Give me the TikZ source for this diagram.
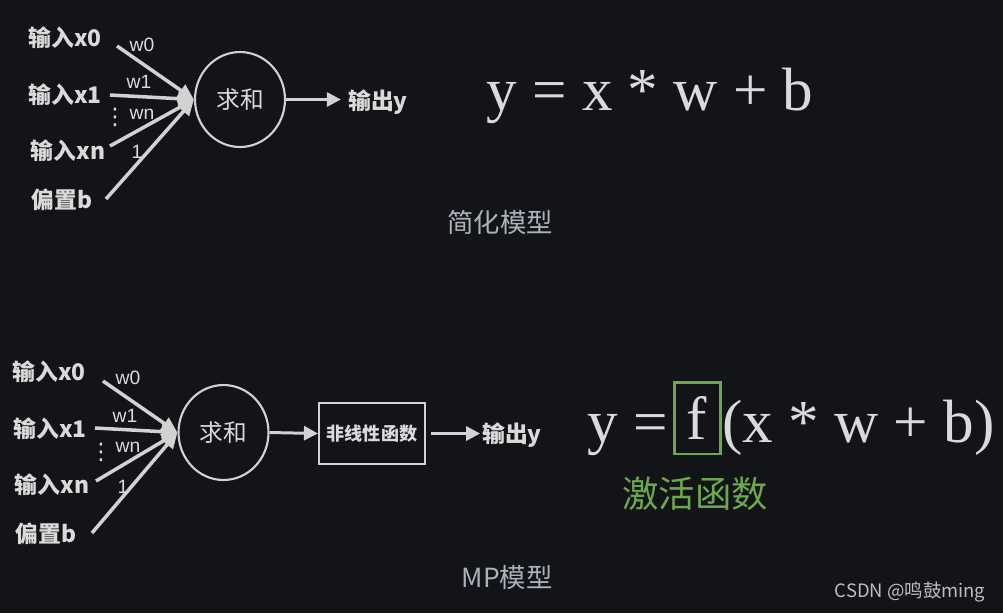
\documentclass[tikz,border=0pt]{standalone}
\usepackage{fontspec}
\setmainfont{Liberation Serif}
\newfontfamily\cjk{Noto Sans CJK SC}
\newfontfamily\lab{Liberation Sans}
\newfontfamily\sym{DejaVu Sans}
\usetikzlibrary{arrows.meta,positioning,shapes.geometric}
\definecolor{bg}{RGB}{19,20,24}
\definecolor{fg}{RGB}{218,218,218}
\definecolor{wire}{RGB}{210,210,210}
\definecolor{capgray}{RGB}{172,178,188}
\definecolor{markgray}{RGB}{190,190,190}
\definecolor{actgreen}{RGB}{108,168,76}
\tikzset{
  inlabel/.style={font=\cjk\bfseries\fontsize{13}{15}\selectfont,text=fg,inner sep=1pt},
  weight/.style={font=\lab\fontsize{11}{12}\selectfont,text=fg,inner sep=0pt},
  vdotsmark/.style={font=\sym\fontsize{13}{13}\selectfont,text=fg,inner sep=0pt},
  inwire/.style={draw=wire,line width=2pt,-{Triangle[length=9pt,width=8pt]}},
  outwire/.style={draw=wire,line width=1.7pt,-{Triangle[length=8pt,width=8pt]}},
  sumnode/.style={ellipse,draw=wire,line width=1.2pt,minimum width=1.8cm,minimum height=1.9cm,
    text=fg,font=\cjk\fontsize{13.5}{15}\selectfont},
  funcbox/.style={rectangle,draw=wire,line width=1.2pt,minimum width=2.12cm,minimum height=1.22cm,
    text=fg,font=\cjk\bfseries\fontsize{10.3}{12}\selectfont},
  formula/.style={font=\fontsize{34.8}{40}\selectfont,text=fg,inner sep=0pt},
  modelcap/.style={font=\cjk\fontsize{15}{18}\selectfont,text=capgray},
}
\begin{document}
\begin{tikzpicture}[x=0.02cm,y=-0.02cm]
\fill[bg] (0,0) rectangle (1003,613);
\useasboundingbox (0,0) rectangle (1003,613);

% simplified model
\node[sumnode] (sumA) at (240,99.5) {求和};
\node[inlabel] (xA0) at (65,38) {输入x0};
\node[inlabel] (xA1) at (65,95) {输入x1};
\node[inlabel] (xAn) at (68,151) {输入xn};
\node[inlabel] (xAb) at (62,200) {偏置b};
\coordinate (tA0) at (117,46);
\coordinate (tA1) at (110,95);
\coordinate (tAn) at (110,146);
\coordinate (tAb) at (106,199);
\foreach \i in {0,1,n,b}
  \draw[inwire] (tA\i) -- (sumA.west);
\node[weight] (wA0) at (142,45) {w0};
\node[weight] (wA1) at (139,82) {w1};
\node[weight] (wAn) at (142,114) {wn};
\node[weight] (wAb) at (137,152) {1};
\node[vdotsmark] (dA) at (115,117) {⋮};
\node[inlabel] (outA) at (378,102) {输出y};
\draw[outwire,shorten >=3pt] (sumA.east) -- (outA.west |- sumA.east);
\node[formula,anchor=base] (eqA) at (650,110) {y = x * w + b};
\node[modelcap] (capA) at (500,222) {简化模型};

% MP model
\node[sumnode] (sumB) at (223.5,432.5) {求和};
\node[inlabel] (xB0) at (49,372) {输入x0};
\node[inlabel] (xB1) at (50,429) {输入x1};
\node[inlabel] (xBn) at (52,485) {输入xn};
\node[inlabel] (xBb) at (46,534) {偏置b};
\coordinate (tB0) at (103,381);
\coordinate (tB1) at (95,428);
\coordinate (tBn) at (96,481);
\coordinate (tBb) at (92,533);
\foreach \i in {0,1,n,b}
  \draw[inwire] (tB\i) -- (sumB.west);
\node[weight] (wB0) at (128,378) {w0};
\node[weight] (wB1) at (125,416) {w1};
\node[weight] (wBn) at (128,447) {wn};
\node[weight] (wBb) at (123,487) {1};
\node[vdotsmark] (dB) at (101,452) {⋮};
\node[funcbox] (fB) at (372,433.5) {非线性函数};
\node[inlabel] (outB) at (512,435) {输出y};
\draw[outwire] (sumB.east) -- (fB.west);
\draw[outwire,shorten <=3pt] (fB.east) -- (outB.west |- fB.east);
\node[formula,anchor=base east] (lhsB) at (668,442) {y =};
\node[formula,draw=actgreen,line width=1.7pt,minimum width=0.92cm,minimum height=1.44cm] (fnB) at (697,418) {f};
\node[formula,anchor=base west] (rhsB) at (722,442) {(x * w + b)};
\node[font=\cjk\fontsize{20.7}{24}\selectfont,text=actgreen] (actB) at (695,494) {激活函数};
\node[modelcap] (capB) at (507,577) {MP模型};
\node[font=\cjk\fontsize{10.5}{12}\selectfont,text=markgray] (mark) at (910,592) {CSDN @鸣鼓ming};
\end{tikzpicture}
\end{document}
